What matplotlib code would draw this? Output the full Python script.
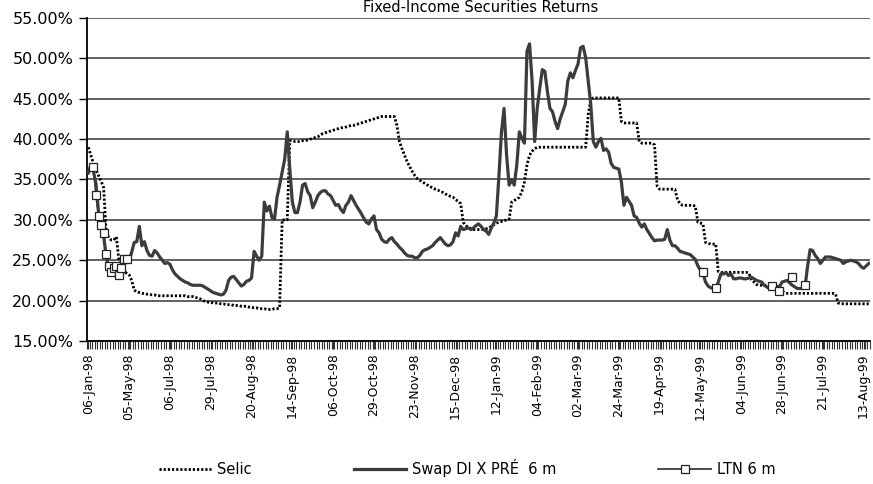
import numpy as np
import matplotlib
matplotlib.use("Agg")
import matplotlib.pyplot as plt

# trading-day series (one value per category)
selic = [
    39.0, 38.0, 37.0, 36.2, 35.5, 34.8, 34.0, 28.5, 27.8, 27.5, 27.5, 27.9, 25.0, 24.0, 23.6, 23.4,
    23.2, 22.5, 21.3, 21.1, 21.0, 20.9, 20.9, 20.8, 20.8, 20.7, 20.7, 20.6, 20.6, 20.6, 20.6, 20.6,
    20.6, 20.6, 20.6, 20.6, 20.6, 20.6, 20.6, 20.5, 20.5, 20.5, 20.4, 20.3, 20.2, 20.0, 19.9, 19.8,
    19.8, 19.7, 19.7, 19.7, 19.6, 19.6, 19.5, 19.5, 19.5, 19.4, 19.4, 19.4, 19.3, 19.3, 19.3, 19.2,
    19.2, 19.1, 19.1, 19.0, 19.0, 19.0, 18.9, 18.9, 18.9, 19.0, 19.0, 19.1, 30.0, 30.0, 30.0, 39.8,
    39.8, 39.7, 39.7, 39.7, 39.8, 39.8, 39.9, 40.0, 40.1, 40.2, 40.3, 40.5, 40.7, 40.8, 40.9, 41.0,
    41.1, 41.2, 41.3, 41.4, 41.4, 41.5, 41.6, 41.7, 41.7, 41.8, 41.9, 42.0, 42.1, 42.2, 42.3, 42.4,
    42.5, 42.6, 42.7, 42.8, 42.8, 42.8, 42.8, 42.8, 42.8, 41.7, 39.7, 38.8, 38.0, 37.2, 36.6, 36.0,
    35.5, 35.1, 34.9, 34.7, 34.5, 34.3, 34.1, 34.0, 33.8, 33.7, 33.5, 33.4, 33.2, 33.1, 32.9, 32.8,
    32.5, 32.3, 32.0, 29.7, 29.3, 29.1, 28.9, 28.8, 28.8, 28.8, 28.8, 28.8, 28.9, 29.0, 29.2, 29.4,
    29.6, 29.7, 29.8, 29.9, 30.0, 30.1, 32.2, 32.4, 32.6, 32.8, 33.5, 34.7, 36.8, 38.0, 38.5, 38.8,
    39.0, 39.0, 39.0, 39.0, 39.0, 39.0, 39.0, 39.0, 39.0, 39.0, 39.0, 39.0, 39.0, 39.0, 39.0, 39.0,
    39.0, 39.0, 39.0, 39.0, 43.0, 44.9, 45.1, 45.1, 45.1, 45.1, 45.1, 45.1, 45.1, 45.1, 45.1, 45.1,
    45.1, 42.2, 42.0, 42.0, 42.0, 42.0, 42.0, 42.0, 39.7, 39.5, 39.5, 39.5, 39.5, 39.5, 39.3, 34.2,
    33.8, 33.8, 33.8, 33.8, 33.8, 33.8, 33.8, 32.5, 32.0, 31.8, 31.8, 31.8, 31.8, 31.8, 31.7, 29.7,
    29.6, 29.5, 27.2, 27.1, 27.0, 27.0, 27.0, 23.6, 23.5, 23.5, 23.5, 23.5, 23.5, 23.5, 23.5, 23.5,
    23.5, 23.5, 23.5, 23.4, 22.6, 22.3, 22.0, 21.9, 21.9, 21.9, 21.9, 21.9, 21.9, 21.9, 21.8, 21.7,
    21.2, 21.0, 20.9, 20.9, 20.9, 20.9, 20.9, 20.9, 20.9, 20.9, 20.9, 20.9, 20.9, 20.9, 20.9, 20.9,
    20.9, 20.9, 20.9, 20.9, 20.9, 20.8, 19.7, 19.6, 19.6, 19.6, 19.6, 19.6, 19.6, 19.6, 19.6, 19.6,
    19.6, 19.6, 19.6,
]

swap = [
    35.8, 36.8, 36.0, 34.5, 31.0, 29.5, 28.0, 25.5, 24.0, 23.5, 23.6, 23.3, 23.4, 24.2, 24.8, 25.0,
    25.0, 26.0, 27.2, 27.3, 29.2, 26.8, 27.3, 26.2, 25.6, 25.5, 26.2, 25.9, 25.4, 25.0, 24.6, 24.7,
    24.5, 23.8, 23.3, 23.0, 22.7, 22.5, 22.3, 22.2, 22.0, 21.9, 21.9, 21.9, 21.9, 21.8, 21.6, 21.4,
    21.2, 21.0, 20.9, 20.8, 20.7, 20.8, 21.3, 22.5, 22.9, 23.0, 22.6, 22.2, 21.8, 22.0, 22.4, 22.5,
    22.8, 26.1, 25.5, 25.0, 25.5, 32.2, 31.1, 31.7, 30.3, 30.1, 32.8, 34.3, 35.9, 37.5, 40.9, 36.3,
    32.2, 30.9, 30.9, 32.2, 34.3, 34.5, 33.5, 33.0, 31.5, 32.2, 33.0, 33.4, 33.6, 33.6, 33.2, 33.0,
    32.4, 31.8, 31.9, 31.3, 30.9, 31.8, 32.2, 33.0, 32.4, 31.8, 31.3, 30.8, 30.2, 29.7, 29.5, 30.1,
    30.5, 28.8, 28.4, 27.6, 27.3, 27.2, 27.6, 27.8, 27.3, 27.0, 26.6, 26.3, 25.9, 25.6, 25.5, 25.5,
    25.3, 25.3, 25.6, 26.1, 26.3, 26.4, 26.6, 26.8, 27.2, 27.5, 27.8, 27.4, 27.0, 26.8, 26.9, 27.3,
    28.4, 28.0, 29.2, 28.8, 28.9, 29.0, 28.8, 29.0, 29.3, 29.5, 29.2, 28.8, 28.6, 28.2, 29.0, 29.6,
    30.5, 35.5, 40.9, 43.8, 38.0, 34.3, 35.0, 34.3, 36.8, 40.9, 40.1, 39.5, 50.9, 51.8, 47.2, 39.7,
    43.8, 46.3, 48.6, 48.4, 45.9, 43.8, 43.4, 42.2, 41.3, 42.5, 43.4, 44.3, 47.2, 48.2, 47.6, 48.5,
    49.3, 51.3, 51.5, 50.1, 47.2, 44.3, 39.7, 39.0, 39.7, 40.1, 38.6, 38.8, 38.4, 37.0, 36.5, 36.4,
    36.3, 34.7, 31.8, 32.8, 32.3, 31.8, 30.5, 30.3, 29.6, 29.1, 29.5, 28.8, 28.3, 27.8, 27.4, 27.5,
    27.5, 27.5, 27.6, 28.8, 27.5, 26.8, 26.8, 26.5, 26.1, 26.0, 25.9, 25.8, 25.7, 25.4, 25.1, 24.3,
    23.8, 23.4, 22.3, 21.8, 21.6, 21.5, 21.4, 22.3, 23.3, 23.3, 23.5, 23.1, 23.3, 22.7, 22.7, 22.8,
    22.8, 22.7, 22.7, 22.8, 22.9, 22.7, 22.5, 22.4, 22.3, 21.9, 21.7, 21.5, 21.5, 21.7, 21.7, 21.7,
    22.3, 22.4, 22.5, 22.2, 21.9, 21.7, 21.5, 21.5, 21.5, 21.7, 24.2, 26.3, 26.2, 25.6, 25.2, 24.6,
    25.0, 25.4, 25.4, 25.4, 25.3, 25.2, 25.1, 25.0, 24.6, 24.8, 24.9, 25.0, 24.9, 24.8, 24.6, 24.2,
    24.0, 24.3, 24.6,
]

# LTN 6 m is only quoted on some days
ltn_idx = [2, 3, 4, 5, 6, 7, 8, 9, 10, 11, 12, 13, 14, 15, 241, 246, 268, 271, 276, 281]
ltn_val = [36.5, 33.1, 30.5, 29.4, 28.4, 25.8, 24.3, 23.6, 24.0, 24.3, 23.2, 24.0, 25.2, 25.1,
           23.6, 21.6, 21.8, 21.2, 22.9, 21.9]

date_labels = ['06-Jan-98', '05-May-98', '06-Jul-98', '29-Jul-98', '20-Aug-98', '14-Sep-98',
               '06-Oct-98', '29-Oct-98', '23-Nov-98', '15-Dec-98', '12-Jan-99', '04-Feb-99',
               '02-Mar-99', '24-Mar-99', '19-Apr-99', '12-May-99', '04-Jun-99', '28-Jun-99',
               '21-Jul-99', '13-Aug-99']

n = len(swap)
x = np.arange(n)
ltn = np.full(n, np.nan)
ltn[ltn_idx] = ltn_val

fig = plt.figure(figsize=(8.73, 4.84), dpi=100)
ax = fig.add_axes([0.0997, 0.2955, 0.8969, 0.6673])

ax.plot(x, selic, color='black', lw=2.0, linestyle=(0, (0.8, 0.7)), label='Selic', zorder=3)
ax.plot(x, swap, color='#3c3c3c', lw=2.3, label='Swap DI X PRÉ  6 m', zorder=4)
ax.plot(x, ltn, color='#3c3c3c', lw=1.3, marker='s', ms=6, mfc='white', mec='#222222',
        mew=0.9, label='LTN 6 m', zorder=5)

ax.set_xlim(-0.5, n - 0.5)
ax.set_ylim(15, 55)
yt = np.arange(15, 56, 5)
ax.set_yticks(yt)
ax.set_yticklabels([f'{v:.2f}%' for v in yt], fontsize=11.5)
ax.yaxis.grid(True, color='#555555', lw=1.3)
ax.set_axisbelow(True)

ax.set_xticks(np.arange(0, n, 16))
ax.set_xticklabels(date_labels, rotation=90, fontsize=9)
ax.set_xticks(np.arange(-0.5, n, 1), minor=True)
ax.tick_params(axis='x', which='both', length=6, width=0.8, color='#333333', pad=3)
ax.tick_params(axis='y', length=6, width=1, pad=4)

for s in ['top', 'right']:
    ax.spines[s].set_visible(False)
ax.spines['left'].set_linewidth(1.3)
ax.spines['bottom'].set_linewidth(1.3)

fig.text(0.55, 0.975, 'Fixed-Income Securities Returns', ha='center', va='baseline', fontsize=10.5)

fig.legend(loc='center', bbox_to_anchor=(0.535, 0.033), ncol=3, frameon=False, fontsize=10.5,
           handlelength=3.6, columnspacing=7, handletextpad=0.4)

fig.savefig('out.png', dpi=100)
